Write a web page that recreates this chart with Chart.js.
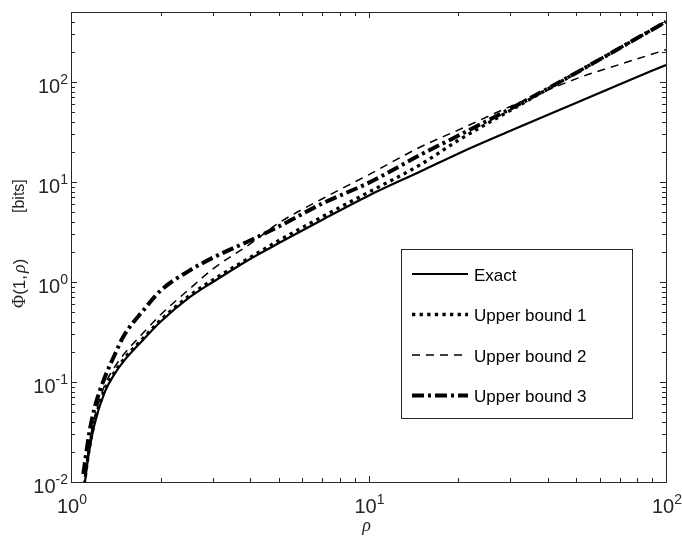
<!DOCTYPE html>
<html>
<head>
<meta charset="utf-8">
<script src="https://cdn.jsdelivr.net/npm/chart.js@4.4.1/dist/chart.umd.min.js"></script>
<style>
  html, body { margin: 0; padding: 0; background: #fff; }
  #wrap { width: 682px; height: 543px; }
</style>
</head>
<body>
<div id="wrap"><canvas id="chart" width="682" height="543"></canvas></div>
<script>
// values (log-log)
let rho = [1.1, 1.15, 1.2, 1.3, 1.4, 1.5, 1.75, 2, 2.5, 3, 4, 5, 7, 10, 15, 20, 30, 50, 70, 100];
let exact = [0.0075, 0.02, 0.038, 0.08, 0.12, 0.16, 0.265, 0.40, 0.70, 1.0, 1.7, 2.45, 4.2, 7.3, 12.8, 19.2, 32.5, 62, 95, 148];
let upper1 = [0.008, 0.021, 0.04, 0.084, 0.125, 0.167, 0.275, 0.415, 0.73, 1.05, 1.76, 2.6, 4.5, 7.9, 15, 26, 52, 124, 219, 400];
let upper2 = [0.0085, 0.023, 0.044, 0.094, 0.14, 0.187, 0.31, 0.47, 0.85, 1.35, 2.4, 3.9, 6.8, 11.8, 22.5, 33, 57, 108, 150, 210];
let upper3 = [0.012, 0.03, 0.055, 0.112, 0.185, 0.285, 0.52, 0.82, 1.3, 1.75, 2.6, 3.6, 6.1, 9.8, 18.8, 29, 54, 124, 219, 400];

let seriesNames = ['Exact', 'Upper bound 1', 'Upper bound 2', 'Upper bound 3'];

let xTicks = [1, 10, 100];
let xTickExp = ['0', '1', '2'];
let yTicks = [0.01, 0.1, 1, 10, 100];
let yTickExp = ['-2', '-1', '0', '1', '2'];

let xMin = 1, xMax = 100, yMin = 0.01, yMax = 501;

function pts(vals) {
  return rho.map((r, i) => ({ x: r, y: vals[i] }));
}

let ex = {
  label: seriesNames[0], data: pts(exact),
  borderColor: '#000', borderWidth: 2.2, borderDash: []
};
let ub1 = {
  label: seriesNames[1], data: pts(upper1),
  borderColor: '#000', borderWidth: 3.3, borderDash: [3.3, 4.3]
};
let ub2 = {
  label: seriesNames[2], data: pts(upper2),
  borderColor: '#000', borderWidth: 1.5, borderDash: [8, 6]
};
let ub3 = {
  label: seriesNames[3], data: pts(upper3),
  borderColor: '#000', borderWidth: 4, borderDash: [12, 4, 3, 4]
};

function powLabel(ctx, exp, x, y, align) {
  ctx.font = '20px "Liberation Sans", Arial, sans-serif';
  let w1 = ctx.measureText('10').width;
  ctx.font = '14px "Liberation Sans", Arial, sans-serif';
  let w2 = ctx.measureText(exp).width;
  let x0 = align === 'right' ? x - w1 - w2 : x - (w1 + w2) / 2;
  ctx.textAlign = 'left';
  ctx.textBaseline = 'alphabetic';
  ctx.font = '20px "Liberation Sans", Arial, sans-serif';
  ctx.fillText('10', x0, y);
  ctx.font = '14px "Liberation Sans", Arial, sans-serif';
  ctx.fillText(exp, x0 + w1, y - 9);
}

let axesPlugin = {
  id: 'axesPlugin',
  afterDraw(chart) {
    let ctx = chart.ctx, a = chart.chartArea;
    let xs = chart.scales.x, ys = chart.scales.y;
    ctx.save();
    ctx.strokeStyle = '#262626';
    ctx.fillStyle = '#262626';
    ctx.lineWidth = 1;
    ctx.setLineDash([]);

    // box
    ctx.strokeRect(a.left + 0.5, a.top + 0.5, a.right - a.left, a.bottom - a.top);

    // x ticks (inward, bottom and top)
    ctx.beginPath();
    for (let d = 1; d < xMax; d *= 10) {
      for (let m = 1; m <= 10; m++) {
        let v = d * m;
        if (v > xMax) break;
        let len = (m === 1 || m === 10) ? 6 : 4;
        let px = Math.round(xs.getPixelForValue(v)) + 0.5;
        ctx.moveTo(px, a.bottom); ctx.lineTo(px, a.bottom - len);
        ctx.moveTo(px, a.top); ctx.lineTo(px, a.top + len);
      }
    }
    // y ticks (inward, left and right)
    for (let d = yMin; d < yMax; d *= 10) {
      for (let m = 1; m <= 9; m++) {
        let v = d * m;
        if (v > yMax) break;
        let len = m === 1 ? 6 : 4;
        let py = Math.round(ys.getPixelForValue(v)) + 0.5;
        ctx.moveTo(a.left, py); ctx.lineTo(a.left + len, py);
        ctx.moveTo(a.right, py); ctx.lineTo(a.right - len, py);
      }
    }
    ctx.stroke();

    // tick labels
    xTicks.forEach((v, i) => {
      powLabel(ctx, xTickExp[i], xs.getPixelForValue(v) + 1, a.bottom + 31, 'center');
    });
    yTicks.forEach((v, i) => {
      powLabel(ctx, yTickExp[i], a.left - 3, ys.getPixelForValue(v) + 11, 'right');
    });

    // x title
    ctx.textAlign = 'center';
    ctx.textBaseline = 'alphabetic';
    ctx.font = 'italic 18px "Liberation Serif", "Times New Roman", serif';
    ctx.fillText('ρ', (a.left + a.right) / 2 - 2, 531);

    // y title, rotated
    ctx.save();
    ctx.translate(20, 0);
    ctx.rotate(-Math.PI / 2);
    ctx.textAlign = 'left';
    ctx.textBaseline = 'middle';
    let u = -308;
    let parts = [
      ['Φ', '18px "Liberation Serif", serif'],
      ['(1,', '17px "Liberation Sans", Arial, sans-serif'],
      ['ρ', 'italic 18px "Liberation Serif", serif'],
      [')', '17px "Liberation Sans", Arial, sans-serif']
    ];
    parts.forEach(p => {
      ctx.font = p[1];
      ctx.fillText(p[0], u, 0);
      u += ctx.measureText(p[0]).width + (p[0] === '(1,' ? 2 : 0);
    });
    ctx.font = '16px "Liberation Sans", Arial, sans-serif';
    ctx.fillText('[bits]', -213, 0);
    ctx.restore();

    // legend
    let bx = 401, by = 249, bw = 231, bh = 169;
    ctx.fillStyle = '#fff';
    ctx.fillRect(bx, by, bw, bh);
    ctx.strokeStyle = '#262626';
    ctx.strokeRect(bx + 0.5, by + 0.5, bw, bh);
    let rows = [274, 314.5, 355, 395.5];
    chart.data.datasets.forEach((ds, i) => {
      let y = rows[i];
      ctx.strokeStyle = '#000';
      ctx.lineWidth = ds.borderWidth;
      ctx.setLineDash(ds.borderDash);
      ctx.lineCap = 'butt';
      ctx.beginPath();
      ctx.moveTo(412, y);
      ctx.lineTo(468, y);
      ctx.stroke();
      ctx.setLineDash([]);
      ctx.fillStyle = '#000';
      ctx.font = '17px "Liberation Sans", Arial, sans-serif';
      ctx.textAlign = 'left';
      ctx.textBaseline = 'alphabetic';
      ctx.fillText(ds.label, 474, y + 6.5);
    });
    ctx.restore();
  }
};

let ctx = document.getElementById('chart').getContext('2d');
let chart = new Chart(ctx, {
  type: 'line',
  data: { datasets: [ex, ub1, ub2, ub3] },
  options: {
    responsive: false,
    animation: false,
    layout: { padding: { top: 12, right: 16, left: 0, bottom: 0 } },
    elements: {
      point: { radius: 0 },
      line: { cubicInterpolationMode: 'monotone', fill: false }
    },
    datasets: { line: { clip: 0 } },
    plugins: { legend: { display: false }, tooltip: { enabled: false } },
    scales: {
      x: {
        type: 'logarithmic', min: xMin, max: xMax,
        ticks: { display: false }, grid: { display: false }, border: { display: false },
        afterFit: s => { s.height = 61; }
      },
      y: {
        type: 'logarithmic', min: yMin, max: yMax,
        ticks: { display: false }, grid: { display: false }, border: { display: false },
        afterFit: s => { s.width = 71; }
      }
    }
  },
  plugins: [axesPlugin]
});
</script>
</body>
</html>
